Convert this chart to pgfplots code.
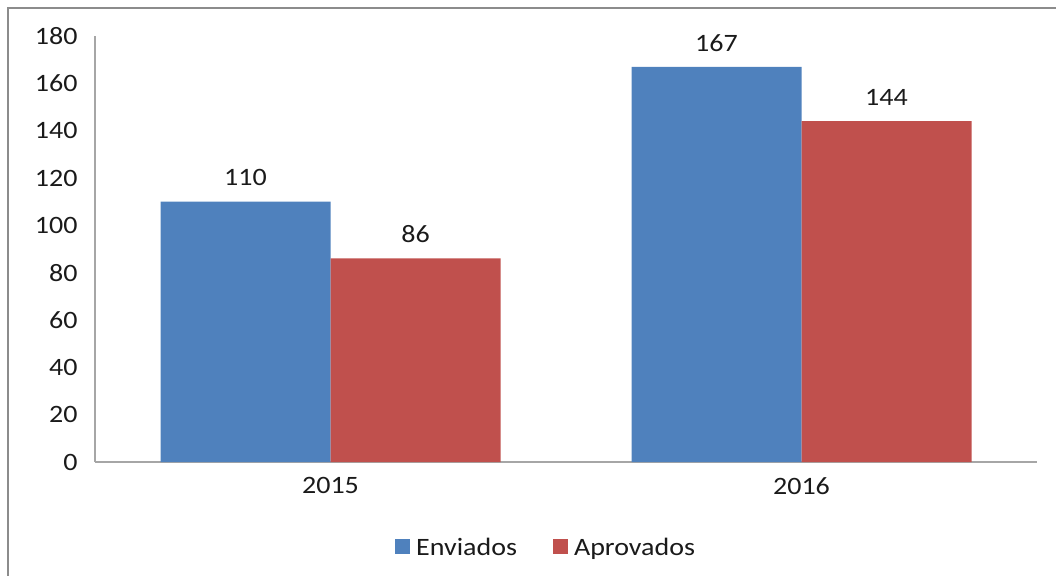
\documentclass[border=0pt]{standalone}
\usepackage{fontspec}
\setmainfont[FakeStretch=1.12]{Carlito}
\usepackage{pgfplots}
\pgfplotsset{compat=1.18}
\definecolor{cblue}{HTML}{4F81BD}
\definecolor{cred}{HTML}{C0504D}
\definecolor{axgray}{HTML}{A6A6A6}
\definecolor{framegray}{HTML}{8C8C8C}
\definecolor{txt}{HTML}{1A1A1A}
\begin{document}
\begin{tikzpicture}[x=1pt,y=1pt]
\path[use as bounding box] (0,0) rectangle (1056,575);
\draw[framegray,line width=2.5pt] (8,-2) -- (8,567) -- (1060,567);
\begin{axis}[
  at={(95pt,113pt)}, anchor=south west,
  width=942pt, height=426pt, scale only axis,
  ybar=0pt, bar width=170pt,
  xmin=-0.5, xmax=1.5, ymin=0, ymax=180,
  xtick=data, xticklabels={2015,2016},
  ytick={0,20,...,180},
  axis x line*=bottom, axis y line*=left,
  axis line style={axgray, line width=1.5pt, -},
  major tick length=0pt,
  tick label style={font=\fontsize{25}{29}\selectfont, text=txt},
  yticklabel style={xshift=-14pt},
  xticklabel style={yshift=-12pt},
  /pgf/number format/assume math mode=true,
  nodes near coords,
  nodes near coords style={font=\fontsize{25}{29}\selectfont, text=txt, yshift=12pt},
  legend style={at={(0.481,-0.2)}, anchor=center, draw=none, legend columns=2,
    font=\fontsize{25}{29}\selectfont, text=txt,
    /tikz/every even column/.append style={column sep=30pt}},
  legend image code/.code={\fill[#1] (0pt,-7pt) rectangle (15pt,8pt);},
  legend cell align=left,
  legend style={nodes={inner xsep=6pt}},
]
\addplot[draw=none, fill=cblue] coordinates {(0,110) (1,167)};
\addplot[draw=none, fill=cred] coordinates {(0,86) (1,144)};
\legend{Enviados, Aprovados}
\end{axis}
\end{tikzpicture}
\end{document}
